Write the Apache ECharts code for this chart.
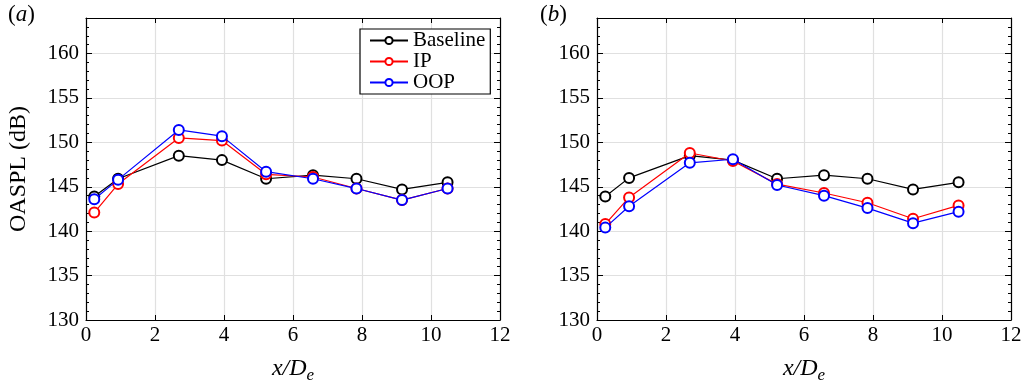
<!DOCTYPE html>
<html><head><meta charset="utf-8">
<script src="https://cdn.jsdelivr.net/npm/echarts@6/dist/echarts.min.js"></script>
<style>html,body{margin:0;padding:0;background:#fff}#c{width:1027px;height:389px}</style>
</head><body><div id="c"></div>
<script>
// Data
var xPos = [0.24, 0.93, 2.69, 3.94, 5.22, 6.58, 7.84, 9.16, 10.48];
var seriesNames = ['Baseline', 'IP', 'OOP'];
var panelA_Baseline = [143.9, 145.9, 148.5, 148.0, 145.9, 146.3, 145.9, 144.7, 145.5];
var panelA_IP       = [142.1, 145.3, 150.5, 150.2, 146.4, 146.1, 144.8, 143.5, 144.8];
var panelA_OOP      = [143.6, 145.8, 151.4, 150.7, 146.7, 145.9, 144.8, 143.5, 144.8];
var panelB_Baseline = [143.9, 146.0, 148.5, 148.0, 145.9, 146.3, 145.9, 144.7, 145.5];
var panelB_IP       = [140.8, 143.8, 148.8, 147.9, 145.3, 144.3, 143.2, 141.4, 142.9];
var panelB_OOP      = [140.4, 142.8, 147.7, 148.1, 145.2, 144.0, 142.6, 140.9, 142.2];
var xTicks = [0, 2, 4, 6, 8, 10, 12];
var yTicks = [130, 135, 140, 145, 150, 155, 160];
var panelLabels = ['a', 'b'];
var colors = ['#000000', '#ff0000', '#0000ff'];

var FONT = '"Liberation Serif", "DejaVu Serif", serif';
var X_MIN = xTicks[0], X_MAX = xTicks[xTicks.length - 1];
var Y_MIN = yTicks[0], Y_MAX = 164;

function pairs(vals) { return vals.map(function (v, i) { return [xPos[i], v]; }); }

var grids = [
  { left: 86, top: 18, width: 414, height: 312 },
  { left: 597, top: 18, width: 414, height: 312 }
];

var xAxes = [], yAxes = [], series = [];
var panels = [
  [panelA_Baseline, panelA_IP, panelA_OOP],
  [panelB_Baseline, panelB_IP, panelB_OOP]
];
var lineStyleAxis = { show: true, lineStyle: { color: '#000', width: 1.2 } };

grids.forEach(function (g, gi) {
  xAxes.push({
    type: 'value', gridIndex: gi, min: X_MIN, max: X_MAX, interval: 2, position: 'bottom',
    axisLine: lineStyleAxis,
    axisTick: { show: true, inside: true, length: 5, lineStyle: { color: '#000' } },
    axisLabel: { fontFamily: FONT, fontSize: 21, color: '#000', margin: 5 },
    splitLine: { show: true, lineStyle: { color: '#e0e0e0', width: 1.2 } },
    name: '{i|x/D}{s|e}', nameLocation: 'middle', nameGap: 33,
    nameTextStyle: { rich: {
      i: { fontFamily: FONT, fontStyle: 'italic', fontSize: 24, color: '#000' },
      s: { fontFamily: FONT, fontStyle: 'italic', fontSize: 17, color: '#000', padding: [14, 0, 0, 0] }
    } }
  });
  xAxes.push({
    type: 'value', gridIndex: gi, min: X_MIN, max: X_MAX, interval: 2, position: 'top',
    axisLine: lineStyleAxis,
    axisTick: { show: true, inside: true, length: 5, lineStyle: { color: '#000' } },
    axisLabel: { show: false }, splitLine: { show: false }
  });
  var base = yAxes.length;
  yAxes.push({
    type: 'value', gridIndex: gi, min: Y_MIN, max: Y_MAX, interval: 5, position: 'left',
    axisLine: lineStyleAxis,
    axisTick: { show: true, inside: true, length: 6, lineStyle: { color: '#000' } },
    axisLabel: { fontFamily: FONT, fontSize: 21, color: '#000', margin: 7,
      formatter: function (v) { return v % 5 === 0 ? String(v) : ''; } },
    splitLine: { show: true, lineStyle: { color: '#e0e0e0', width: 1.2 } },
    name: gi === 0 ? 'OASPL (dB)' : '', nameLocation: 'middle', nameRotate: 90, nameGap: 55,
    nameTextStyle: { fontFamily: FONT, fontSize: 24, color: '#000' }
  });
  yAxes.push({
    type: 'value', gridIndex: gi, min: Y_MIN, max: Y_MAX, interval: 1, position: 'left',
    axisLine: { show: false },
    axisTick: { show: true, inside: true, length: 3, lineStyle: { color: '#000' } },
    axisLabel: { show: false }, splitLine: { show: false }
  });
  yAxes.push({
    type: 'value', gridIndex: gi, min: Y_MIN, max: Y_MAX, interval: 5, position: 'right',
    axisLine: lineStyleAxis,
    axisTick: { show: true, inside: true, length: 6, lineStyle: { color: '#000' } },
    axisLabel: { show: false }, splitLine: { show: false }
  });
  yAxes.push({
    type: 'value', gridIndex: gi, min: Y_MIN, max: Y_MAX, interval: 1, position: 'right',
    axisLine: { show: false },
    axisTick: { show: true, inside: true, length: 3, lineStyle: { color: '#000' } },
    axisLabel: { show: false }, splitLine: { show: false }
  });
  panels[gi].forEach(function (vals, si) {
    series.push({
      name: seriesNames[si], type: 'line', xAxisIndex: gi * 2, yAxisIndex: base,
      data: pairs(vals), symbol: 'emptyCircle', symbolSize: 10,
      lineStyle: { color: colors[si], width: 1.2 },
      itemStyle: { color: colors[si], borderWidth: 1 },
      animation: false, z: 3 + si
    });
  });
});

var chart = echarts.init(document.getElementById('c'));
chart.setOption({
  backgroundColor: '#fff',
  animation: false,
  grid: grids,
  xAxis: xAxes,
  yAxis: yAxes,
  series: series,
  legend: {
    data: seriesNames, orient: 'vertical', left: 360, top: 29,
    backgroundColor: '#fff', borderColor: '#000', borderWidth: 1.2,
    padding: [1, 5, 1, 9], itemGap: 0, itemWidth: 38, itemHeight: 9,
    textStyle: { fontFamily: FONT, fontSize: 21, color: '#000', lineHeight: 20 }
  },
  graphic: [
    { type: 'text', left: 8, top: 3, style: { text: '({i|a})', fontFamily: FONT, fontSize: 23, fill: '#000',
      rich: { i: { fontFamily: FONT, fontStyle: 'italic', fontSize: 23 } } } },
    { type: 'text', left: 540, top: 3, style: { text: '({i|b})', fontFamily: FONT, fontSize: 23, fill: '#000',
      rich: { i: { fontFamily: FONT, fontStyle: 'italic', fontSize: 23 } } } }
  ]
});
</script></body></html>
